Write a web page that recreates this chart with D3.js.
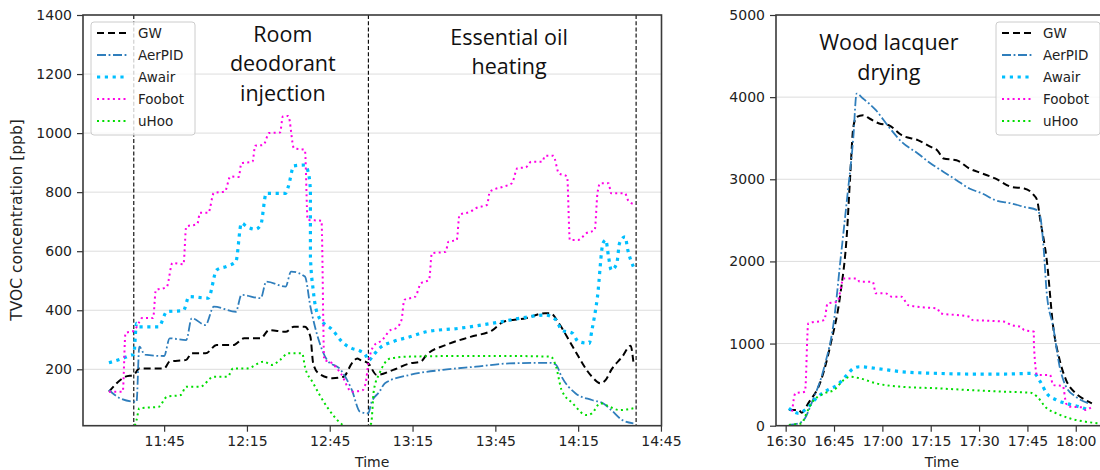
<!DOCTYPE html>
<html>
<head>
  <meta charset="utf-8">
  <title>TVOC sensors comparison</title>
  <script src="https://d3js.org/d3.v7.min.js"></script>
  <style>
    body { margin: 0; background: #fff; }
    text { font-family: "DejaVu Sans", sans-serif; fill: #222; }
    .note { font-family: "Open Sans", sans-serif; font-size: 21.5px; fill: #111; }
  </style>
</head>
<body>
<script>
// sensors, plotted in this order
var names = ["GW", "AerPID", "Awair", "Foobot", "uHoo"];

// ---- left panel: room deodorant + essential oil (time, ppb)
var leftGW = [["11:25",124],["11:31",175],["11:34",181],["11:36",203],["11:45",203],["11:47",226],["11:53",232],["11:55",254],["12:00",254],["12:04",282],["12:10",282],["12:14",305],["12:20",305],["12:23",333],["12:29",327],["12:32",344],["12:36",344],["12:38",310],["12:39",220],["12:41",186],["12:46",170],["12:50",175],["12:53",220],["12:55",237],["12:56",232],["12:59",220],["13:02",181],["13:08",198],["13:14",220],["13:18",226],["13:20",248],["13:27",282],["13:36",310],["13:44",333],["13:48",361],["13:56",373],["14:03",390],["14:05",390],["14:08",356],["14:13",277],["14:20",175],["14:23",153],["14:25",164],["14:27",198],["14:31",243],["14:34",280],["14:35",226]];
var leftAerPID = [["11:25",130],["11:29",102],["11:35",90],["11:36",277],["11:38",250],["11:45",245],["11:47",305],["11:53",299],["11:55",373],["12:00",350],["12:03",412],["12:11",395],["12:13",452],["12:20",441],["12:22",497],["12:29",480],["12:31",531],["12:36",514],["12:38",412],["12:41",299],["12:44",232],["12:49",198],["12:53",130],["12:56",56],["12:59",51],["13:00",85],["13:03",124],["13:05",153],["13:14",181],["13:26",198],["13:38",209],["13:50",220],["14:05",222],["14:07",215],["14:09",175],["14:14",119],["14:20",96],["14:24",85],["14:27",62],["14:31",28],["14:35",17]];
var leftAwair = [["11:25",222],["11:30",237],["11:33",248],["11:34",250],["11:35",356],["11:36",344],["11:43",344],["11:46",395],["11:52",399],["11:54",446],["12:01",441],["12:04",536],["12:08",550],["12:11",565],["12:13",695],["12:15",683],["12:18",674],["12:20",689],["12:22",796],["12:29",796],["12:30",819],["12:32",889],["12:36",892],["12:37",875],["12:38",808],["12:38",582],["12:39",469],["12:41",378],["12:46",333],["12:50",288],["12:53",271],["12:56",262],["12:58",248],["12:59",230],["13:01",250],["13:03",271],["13:08",294],["13:14",310],["13:20",327],["13:32",339],["13:44",356],["13:56",376],["14:03",384],["14:07",367],["14:09",333],["14:13",322],["14:15",294],["14:19",288],["14:20",333],["14:22",446],["14:24",627],["14:25",638],["14:26",582],["14:27",536],["14:29",559],["14:30",627],["14:32",649],["14:33",604],["14:35",548]];
var leftFoobot = [["11:25",124],["11:30",124],["11:31",323],["11:34",330],["11:36",360],["11:37",374],["11:41",374],["11:42",469],["11:45",475],["11:46",480],["11:48",560],["11:52",556],["11:53",683],["11:57",692],["11:58",730],["12:01",730],["12:03",797],["12:07",802],["12:09",853],["12:12",851],["12:13",898],["12:17",903],["12:18",957],["12:21",960],["12:23",1000],["12:27",1002],["12:28",1056],["12:30",1058],["12:32",949],["12:36",943],["12:37",706],["12:42",703],["12:43",231],["12:45",226],["12:49",186],["12:53",124],["12:57",130],["12:58",153],["12:59",221],["13:01",280],["13:04",299],["13:07",333],["13:09",339],["13:11",367],["13:12",435],["13:16",446],["13:18",491],["13:21",503],["13:22",593],["13:27",598],["13:28",632],["13:31",638],["13:32",723],["13:36",734],["13:38",746],["13:42",757],["13:43",802],["13:48",819],["13:51",830],["13:53",881],["13:56",884],["13:58",903],["14:02",903],["14:03",923],["14:06",923],["14:08",864],["14:11",853],["14:12",638],["14:15",638],["14:18",661],["14:21",672],["14:22",796],["14:23",830],["14:26",830],["14:27",796],["14:32",796],["14:33",774],["14:35",760]];
var leftUhoo = [["11:25",5],["11:34",5],["11:35",28],["11:36",68],["11:43",73],["11:46",107],["11:51",113],["11:53",141],["11:58",141],["12:03",175],["12:08",175],["12:10",203],["12:15",203],["12:21",226],["12:24",215],["12:27",232],["12:30",254],["12:35",254],["12:36",209],["12:39",153],["12:44",73],["12:49",17],["12:51",5],["12:59",5],["13:00",17],["13:01",130],["13:03",186],["13:07",237],["13:14",243],["13:32",245],["13:50",245],["14:05",243],["14:07",209],["14:09",130],["14:13",85],["14:18",45],["14:20",51],["14:23",85],["14:25",79],["14:30",62],["14:35",68]];

var leftXTicks = ["11:45", "12:15", "12:45", "13:15", "13:45", "14:15", "14:45"];
var leftYTicks = [200, 400, 600, 800, 1000, 1200, 1400];
var leftEvents = ["11:34", "12:59", "14:36"];
var leftNotes = [["Room", "deodorant", "injection"], ["Essential oil", "heating"]];
var leftNoteAt = [["12:28", 1310], ["13:50", 1300]];

// ---- right panel: wood lacquer drying
var rightGW = [["16:31",191],["16:34",191],["16:35",158],["16:37",272],["16:41",556],["16:44",1002],["16:47",1611],["16:49",2341],["16:50",3029],["16:51",3637],["16:52",3759],["16:54",3780],["16:56",3740],["16:59",3679],["17:02",3658],["17:06",3537],["17:11",3476],["17:15",3394],["17:17",3354],["17:19",3253],["17:23",3232],["17:27",3131],["17:31",3071],["17:35",3010],["17:40",2908],["17:44",2888],["17:47",2807],["17:48",2746],["17:49",2502],["17:51",2016],["17:53",1204],["17:55",799],["17:57",556],["18:00",394],["18:03",313],["18:05",272]];
var rightAerPID = [["16:31",9],["16:34",29],["16:36",90],["16:38",272],["16:42",718],["16:45",1286],["16:47",2016],["16:49",2746],["16:51",3516],["16:52",4044],["16:54",3983],["16:58",3841],["17:02",3637],["17:06",3455],["17:11",3314],["17:15",3192],["17:19",3090],["17:23",2989],["17:27",2888],["17:31",2827],["17:35",2746],["17:40",2706],["17:44",2664],["17:48",2624],["17:49",2543],["17:50",2178],["17:51",1611],["17:53",1204],["17:55",718],["17:57",474],["18:00",353],["18:04",272]];
var rightAwair = [["16:31",212],["16:34",151],["16:36",191],["16:40",353],["16:43",434],["16:46",495],["16:49",617],["16:51",698],["16:53",718],["16:58",698],["17:06",657],["17:17",637],["17:27",629],["17:38",629],["17:47",637],["17:49",535],["17:51",394],["17:54",313],["17:57",272],["18:01",231],["18:04",191]];
var rightFoobot = [["16:32",170],["16:33",394],["16:36",414],["16:37",1246],["16:42",1286],["16:43",1489],["16:46",1509],["16:48",1793],["16:52",1793],["16:53",1752],["16:57",1752],["16:58",1611],["17:01",1611],["17:03",1569],["17:06",1569],["17:08",1468],["17:13",1440],["17:17",1428],["17:18",1367],["17:23",1347],["17:27",1326],["17:28",1286],["17:33",1277],["17:38",1265],["17:40",1225],["17:43",1204],["17:44",1164],["17:47",1144],["17:47",1002],["17:48",617],["17:52",617],["17:53",495],["17:56",483],["17:57",272],["17:58",231],["18:02",224],["18:03",191],["18:05",231]];
var rightUhoo = [["16:31",9],["16:35",29],["16:36",110],["16:38",272],["16:42",394],["16:45",434],["16:48",556],["16:50",596],["16:53",577],["16:58",516],["17:06",474],["17:17",455],["17:27",434],["17:38",414],["17:46",401],["17:48",353],["17:51",212],["17:54",151],["17:58",90],["18:03",49],["18:07",29]];

var rightXTicks = ["16:30", "16:45", "17:00", "17:15", "17:30", "17:45", "18:00"];
var rightYTicks = [0, 1000, 2000, 3000, 4000, 5000];
var rightNotes = [["Wood lacquer", "drying"]];
var rightNoteAt = [["17:02", 4570]];

// line styles per sensor
var styles = [
  { color: "#000000", width: 2,   dash: "7,4" },
  { color: "#2f7ebc", width: 1.8, dash: "9,2.6,1.8,2.6" },
  { color: "#00bfff", width: 3.2, dash: "3.2,4.6" },
  { color: "#ff00e6", width: 2,   dash: "2,3.3" },
  { color: "#00dd00", width: 2,   dash: "2,3.3" }
];

// "HH:MM" -> minutes of the day
function mins(s) {
  var p = s.split(":");
  return +p[0] * 60 + +p[1];
}

var width = 1100, height = 470;
var svg = d3.select("body").append("svg")
    .attr("width", width)
    .attr("height", height);

function panel(o) {
  var x = d3.scaleLinear().domain(o.xDomain).range([o.left, o.right]);
  var y = d3.scaleLinear().domain(o.yDomain).range([o.bottom, o.top]);
  var g = svg.append("g");

  g.append("clipPath").attr("id", o.id)
    .append("rect")
    .attr("x", o.left).attr("y", o.top)
    .attr("width", o.right - o.left).attr("height", o.bottom - o.top);

  // horizontal grid
  g.append("g").selectAll("line")
    .data(o.yTicks.filter(function (d) { return d > o.yDomain[0] && d < o.yDomain[1]; }))
    .enter().append("line")
    .attr("x1", o.left).attr("x2", o.right)
    .attr("y1", function (d) { return y(d); })
    .attr("y2", function (d) { return y(d); })
    .attr("stroke", "#dddddd").attr("stroke-width", 1);

  // event markers
  g.append("g").selectAll("line")
    .data(o.events || [])
    .enter().append("line")
    .attr("x1", function (d) { return x(mins(d)); })
    .attr("x2", function (d) { return x(mins(d)); })
    .attr("y1", o.top).attr("y2", o.bottom)
    .attr("stroke", "#000").attr("stroke-width", 1.1)
    .attr("stroke-dasharray", "4,2.2");

  // sensor lines
  var line = d3.line()
    .x(function (d) { return x(mins(d[0])); })
    .y(function (d) { return y(d[1]); })
    .curve(d3.curveMonotoneX);
  var lines = g.append("g").attr("clip-path", "url(#" + o.id + ")");
  o.series.forEach(function (s, i) {
    lines.append("path")
      .datum(s)
      .attr("d", line)
      .attr("fill", "none")
      .attr("stroke", styles[i].color)
      .attr("stroke-width", styles[i].width)
      .attr("stroke-dasharray", styles[i].dash)
      .attr("stroke-linejoin", "round");
  });

  // notes
  o.notes.forEach(function (n, i) {
    var t = g.append("text").attr("class", "note")
      .attr("text-anchor", "middle")
      .attr("x", x(mins(o.noteAt[i][0])))
      .attr("y", y(o.noteAt[i][1]));
    n.forEach(function (s, k) {
      t.append("tspan")
        .attr("x", x(mins(o.noteAt[i][0])))
        .attr("dy", k === 0 ? 0 : 29.5)
        .text(s);
    });
  });

  // axes
  var xa = g.append("g")
    .attr("transform", "translate(0," + o.bottom + ")")
    .call(d3.axisBottom(x)
      .tickValues(o.xTicks.map(mins))
      .tickFormat(function (d, i) { return o.xTicks[i]; })
      .tickSize(6).tickPadding(4));
  var ya = g.append("g")
    .attr("transform", "translate(" + o.left + ",0)")
    .call(d3.axisLeft(y)
      .tickValues(o.yTicks)
      .tickFormat(d3.format("d"))
      .tickSize(6).tickPadding(5));
  [xa, ya].forEach(function (a) {
    a.select(".domain").remove();
    a.selectAll(".tick line").attr("stroke", "#333").attr("stroke-width", 1.2);
    a.selectAll(".tick text").attr("font-size", 14).attr("fill", "#222")
      .attr("font-family", "DejaVu Sans");
  });

  // frame
  g.append("rect")
    .attr("x", o.left).attr("y", o.top)
    .attr("width", o.right - o.left).attr("height", o.bottom - o.top)
    .attr("fill", "none").attr("stroke", "#3a3a3a").attr("stroke-width", 1.6);

  g.append("text")
    .attr("x", (o.left + o.right) / 2).attr("y", 467)
    .attr("text-anchor", "middle").attr("font-size", 14)
    .text("Time");

  // legend
  var lg = g.append("g").attr("transform", "translate(" + o.legendX + ",22)");
  lg.append("rect")
    .attr("width", 104).attr("height", 113).attr("rx", 3)
    .attr("fill", "#fff").attr("fill-opacity", 0.8)
    .attr("stroke", "#cccccc").attr("stroke-width", 1);
  names.forEach(function (nm, i) {
    var row = lg.append("g").attr("transform", "translate(0," + (11 + i * 22) + ")");
    row.append("line")
      .attr("x1", 6).attr("x2", 36)
      .attr("stroke", styles[i].color)
      .attr("stroke-width", styles[i].width)
      .attr("stroke-dasharray", styles[i].dash);
    row.append("text")
      .attr("x", 47).attr("dy", "0.35em")
      .attr("font-size", 13.5)
      .text(nm);
  });
}

panel({
  id: "clipL", left: 83, right: 661.5, top: 15, bottom: 425.7,
  xDomain: [675.6, 885.2], yDomain: [9, 1400],
  xTicks: leftXTicks, yTicks: leftYTicks, events: leftEvents,
  series: [leftGW, leftAerPID, leftAwair, leftFoobot, leftUhoo],
  notes: leftNotes, noteAt: leftNoteAt, legendX: 91
});

panel({
  id: "clipR", left: 776, right: 1108, top: 15, bottom: 425.7,
  xDomain: [987, 1090], yDomain: [0, 5000],
  xTicks: rightXTicks, yTicks: rightYTicks, events: [],
  series: [rightGW, rightAerPID, rightAwair, rightFoobot, rightUhoo],
  notes: rightNotes, noteAt: rightNoteAt, legendX: 996
});

svg.append("text")
  .attr("transform", "translate(22,220) rotate(-90)")
  .attr("text-anchor", "middle")
  .attr("font-size", 15.5)
  .text("TVOC concentration [ppb]");
</script>
</body>
</html>
